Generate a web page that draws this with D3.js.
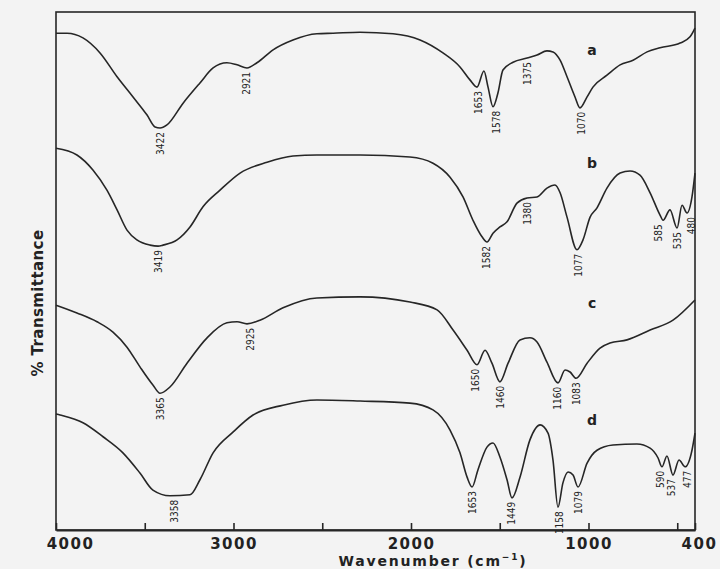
<!DOCTYPE html>
<html>
<head>
<meta charset="utf-8">
<script src="https://cdnjs.cloudflare.com/ajax/libs/d3/7.8.5/d3.min.js"></script>
<style>
  body { margin: 0; background: #f3f3f3; }
  svg { display: block; }
</style>
</head>
<body>
<div id="chart"></div>
<script>
// spectra: wavenumber (cm-1) and stacked % transmittance
var waveA = [4000,3938,3848,3752,3656,3566,3487,3442,3414,3375,3284,3189,3115,3037,2980,2924,2868,2777,2665,2530,2439,2287,2101,1949,1820,1724,1668,1628,1589,1566,1538,1510,1482,1425,1346,1290,1234,1200,1160,1121,1076,1048,1008,975,896,822,749,670,597,484,428,400];
var transA = [95.9,95.9,95.0,92.1,87.5,83.6,80.1,77.8,77.6,78.2,82.4,86.3,89.2,90.2,89.8,89.2,90.2,92.7,94.6,95.8,95.9,96.1,95.8,94.6,92.1,89.4,86.9,85.5,88.6,85.5,81.7,84.4,88.8,90.3,91.1,91.7,92.5,92.3,90.7,87.5,83.6,81.5,83.6,85.5,87.8,89.8,90.7,92.3,93.1,94.0,95.2,96.9];

var waveB = [4000,3882,3792,3713,3656,3600,3544,3470,3425,3397,3318,3245,3172,3076,2963,2811,2665,2530,2287,2006,1876,1780,1707,1651,1600,1572,1538,1499,1459,1403,1346,1290,1234,1189,1160,1121,1065,1031,991,952,896,822,766,710,653,597,580,541,501,473,445,417,400];
var transB = [73.7,72.4,69.5,65.6,61.8,57.9,56.0,55.0,54.8,55.0,56.0,58.5,62.4,65.6,68.9,71.0,72.2,72.4,72.4,72.0,70.8,68.1,64.3,59.8,56.6,55.6,57.3,58.5,59.5,63.1,64.1,64.3,66.0,66.6,65.1,60.4,54.1,56.0,60.4,62.2,66.0,68.9,69.3,68.5,65.1,60.8,59.8,61.8,58.3,62.7,61.2,64.3,68.9];

var waveC = [4000,3882,3769,3679,3600,3527,3454,3414,3358,3262,3149,3037,2980,2924,2851,2721,2530,2287,2006,1853,1763,1684,1628,1583,1544,1499,1453,1386,1330,1290,1234,1172,1132,1104,1070,1008,935,879,783,653,524,400];
var transC = [43.4,41.9,40.2,38.2,35.3,31.5,28.0,26.4,27.6,32.2,37.1,40.0,40.2,39.8,40.5,42.9,44.8,45.0,44.0,42.5,38.6,34.7,31.9,34.7,32.2,28.6,32.2,36.7,37.1,36.3,32.4,28.4,30.9,30.5,29.3,32.2,35.1,36.1,36.7,38.6,40.5,44.4];

var waveD = [4000,3977,3848,3735,3623,3527,3454,3358,3245,3189,3115,3003,2890,2721,2530,2287,2006,1876,1780,1724,1684,1656,1623,1572,1538,1499,1459,1431,1386,1330,1273,1228,1200,1172,1144,1115,1087,1059,1008,952,862,727,653,608,586,558,524,490,456,417,400];
var transD = [22.4,22.2,20.7,18.0,14.9,11.0,7.7,6.6,6.8,9.7,14.9,18.9,22.2,24.1,25.1,24.9,24.5,23.2,19.3,14.9,10.2,8.3,11.6,16.0,16.8,14.1,9.7,6.2,10.2,17.4,20.3,18.7,13.5,4.4,9.1,11.2,10.6,8.3,12.9,15.4,16.4,16.6,15.8,13.9,12.2,14.3,10.6,13.5,12.2,15.4,18.7];

// band labels and the wavenumber where each one is written
var peaksA = ["3422","2921","1653","1578","1375","1070"];
var peakWaveA = [3414,2924,1622,1521,1341,1037];
var peaksB = ["3419","1582","1380","1077","585","535","480"];
var peakWaveB = [3425,1577,1346,1059,603,496,417];
var peaksC = ["3365","2925","1650","1460","1160","1083"];
var peakWaveC = [3414,2907,1639,1493,1172,1065];
var peaksD = ["3358","1653","1449","1158","1079","590","537","477"];
var peakWaveD = [3330,1651,1431,1166,1059,597,530,445];

var seriesNames = ["a","b","c","d"];
var tickWaves = [4000,3500,3000,2500,2000,1500,1000,500,400];
var tickLabels = [4000,3000,2000,1000,400];

(function() {
  var svgWidth = 720, svgHeight = 569;
  var margin = { left: 56, right: 695, top: 12, bottom: 530 };
  var ink = "#262626";

  var svg = d3.select("#chart").append("svg")
    .attr("width", svgWidth)
    .attr("height", svgHeight);

  svg.append("rect")
    .attr("width", svgWidth)
    .attr("height", svgHeight)
    .attr("fill", "#f3f3f3");

  var x = d3.scaleLinear().domain([4000, 400]).range([margin.left, margin.right]);
  var y = d3.scaleLinear().domain([0, 100]).range([margin.bottom, margin.top]);

  // frame
  svg.append("rect")
    .attr("x", margin.left).attr("y", margin.top)
    .attr("width", margin.right - margin.left).attr("height", margin.bottom - margin.top)
    .attr("fill", "none")
    .attr("stroke", ink)
    .attr("stroke-width", 1.6);

  var xAxis = d3.axisBottom(x)
    .tickValues(tickWaves)
    .tickSize(-7)
    .tickSizeOuter(0)
    .tickPadding(8)
    .tickFormat(function(d) { return tickLabels.indexOf(d) >= 0 ? d : ""; });

  var gx = svg.append("g")
    .attr("transform", "translate(0," + margin.bottom + ")")
    .call(xAxis);
  gx.select(".domain").attr("stroke", ink).attr("stroke-width", 1.8);
  gx.selectAll(".tick line").attr("stroke", ink).attr("stroke-width", 1.6);
  gx.selectAll(".tick text")
    .attr("fill", "#222")
    .style("font-family", "DejaVu Sans")
    .style("font-weight", "bold")
    .style("font-size", "15px")
    .style("letter-spacing", "1.5px")
    .attr("dx", function(d) { return d === 4000 ? 14 : (d === 400 ? 4 : 0); });

  var title = svg.append("text")
    .attr("x", 433)
    .attr("y", 566)
    .attr("text-anchor", "middle")
    .attr("fill", "#222")
    .style("font-family", "DejaVu Sans")
    .style("font-weight", "bold")
    .style("font-size", "14px")
    .style("letter-spacing", "1.8px");
  title.append("tspan").text("Wavenumber (cm");
  title.append("tspan").attr("dy", -6).style("font-size", "9px").text("\u22121");
  title.append("tspan").attr("dy", 6).text(")");

  svg.append("text")
    .attr("transform", "translate(43,303) rotate(-90)")
    .attr("text-anchor", "middle")
    .attr("fill", "#222")
    .style("font-family", "DejaVu Sans")
    .style("font-weight", "bold")
    .style("font-size", "15px")
    .style("letter-spacing", "0.4px")
    .text("% Transmittance");

  var line = d3.line()
    .x(function(d) { return x(d.w); })
    .y(function(d) { return y(d.t); })
    .curve(d3.curveMonotoneX);

  var spectra = [
    { waves: waveA, trans: transA, peaks: peaksA, peakWaves: peakWaveA },
    { waves: waveB, trans: transB, peaks: peaksB, peakWaves: peakWaveB },
    { waves: waveC, trans: transC, peaks: peaksC, peakWaves: peakWaveC },
    { waves: waveD, trans: transD, peaks: peaksD, peakWaves: peakWaveD }
  ];
  var letterY = [50, 163, 303, 420];

  spectra.forEach(function(s, i) {
    var pts = s.waves.map(function(w, j) { return { w: w, t: s.trans[j] }; });

    svg.append("path")
      .datum(pts)
      .attr("d", line)
      .attr("fill", "none")
      .attr("stroke", ink)
      .attr("stroke-width", 1.6)
      .attr("stroke-linejoin", "round");

    // band labels hang just under the lowest nearby point of the curve
    s.peaks.forEach(function(label, k) {
      var px = x(s.peakWaves[k]);
      var low = d3.max(pts.filter(function(p) { return Math.abs(x(p.w) - px) <= 5; }),
        function(p) { return y(p.t); });
      if (low === undefined) low = y(d3.min(s.trans));
      svg.append("text")
        .attr("transform", "translate(" + px + "," + (low + 4) + ") rotate(-90)")
        .attr("text-anchor", "end")
        .attr("dy", "0.35em")
        .attr("fill", "#222")
        .style("font-family", "DejaVu Sans Condensed")
        .style("font-size", "10px")
        .text(label);
    });

    svg.append("text")
      .attr("x", x(980))
      .attr("y", letterY[i])
      .attr("dy", "0.35em")
      .attr("text-anchor", "middle")
      .attr("fill", "#222")
      .style("font-family", "DejaVu Sans")
      .style("font-weight", "bold")
      .style("font-size", "14px")
      .text(seriesNames[i]);
  });
})();
</script>
</body>
</html>
